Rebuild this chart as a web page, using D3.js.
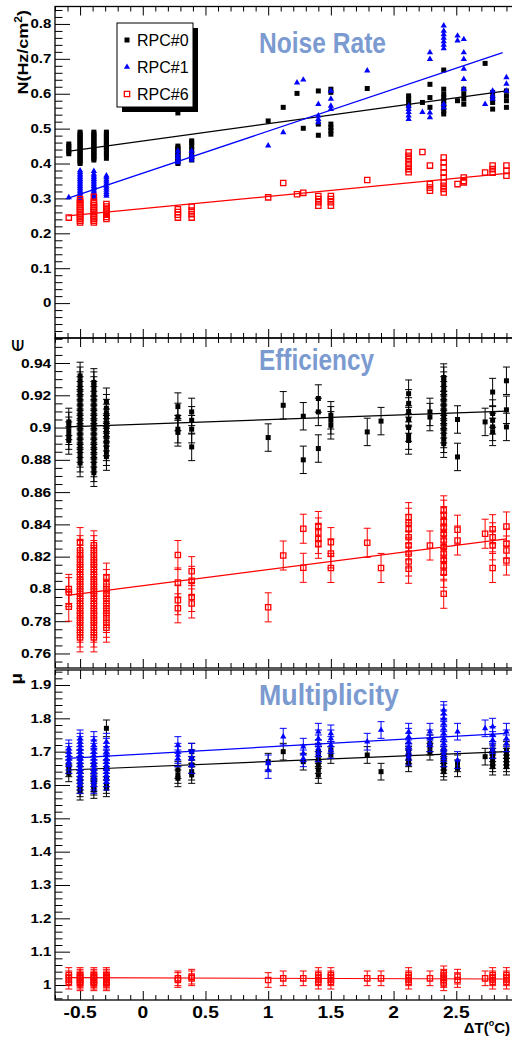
<!DOCTYPE html>
<html><head><meta charset="utf-8">
<script src="https://cdn.jsdelivr.net/npm/d3@7"></script>
<style>body{margin:0;background:#fff}svg{display:block}</style>
</head><body>
<script>
// ---------------- DATA ----------------
const seriesNames = ["RPC#0", "RPC#1", "RPC#6"];
const panelTitles = ["Noise Rate", "Efficiency", "Multiplicity"];
const yTitles = ["N(Hz/cm", "\u2208", "\u03bc"];
const xTitle = "\u0394T(";

const xTicks = [-0.5, 0, 0.5, 1, 1.5, 2, 2.5];
const noiseTicks = [0, 0.1, 0.2, 0.3, 0.4, 0.5, 0.6, 0.7, 0.8];
const effTicks = [0.76, 0.78, 0.8, 0.82, 0.84, 0.86, 0.88, 0.9, 0.92, 0.94];
const multTicks = [1, 1.1, 1.2, 1.3, 1.4, 1.5, 1.6, 1.7, 1.8, 1.9];

// Noise rate (Hz/cm^2), groups of [deltaT, values]
const noise0 = [
  [-0.59, [0.428, 0.435, 0.442, 0.45, 0.456]],
  [-0.5, [0.40, 0.405, 0.41, 0.415, 0.42, 0.425, 0.43, 0.435, 0.44, 0.445, 0.45, 0.455, 0.46, 0.465, 0.47, 0.475, 0.48, 0.485, 0.49]],
  [-0.39, [0.41, 0.415, 0.42, 0.425, 0.43, 0.435, 0.44, 0.445, 0.45, 0.455, 0.46, 0.465, 0.47, 0.475, 0.48, 0.485, 0.49]],
  [-0.29, [0.415, 0.425, 0.43, 0.44, 0.445, 0.45, 0.455, 0.46, 0.465, 0.47, 0.475, 0.48, 0.485, 0.49]],
  [0.28, [0.40, 0.405, 0.41, 0.415, 0.42, 0.425, 0.43, 0.435, 0.44, 0.445, 0.45, 0.545]],
  [0.39, [0.41, 0.415, 0.42, 0.43, 0.44, 0.45, 0.46, 0.465]],
  [1.0, [0.522]], [1.12, [0.561]], [1.23, [0.601]], [1.28, [0.501]],
  [1.4, [0.481, 0.513, 0.608]], [1.5, [0.484, 0.494, 0.503, 0.513, 0.604, 0.613]],
  [1.79, [0.615]], [2.12, [0.565, 0.575, 0.585, 0.594]], [2.23, [0.575]],
  [2.29, [0.561, 0.589, 0.627]], [2.4, [0.542, 0.551, 0.561, 0.57, 0.58, 0.589, 0.599, 0.613, 0.668]],
  [2.51, [0.58]], [2.56, [0.57, 0.585, 0.599, 0.613]], [2.73, [0.687]],
  [2.79, [0.556, 0.575, 0.589, 0.604]], [2.9, [0.561, 0.58, 0.594, 0.608]]
];
const noise1 = [
  [-0.59, [0.303]],
  [-0.5, [0.30, 0.305, 0.31, 0.315, 0.32, 0.325, 0.33, 0.335, 0.34, 0.345, 0.35, 0.355, 0.36, 0.365, 0.37, 0.375, 0.38]],
  [-0.39, [0.30, 0.305, 0.31, 0.315, 0.32, 0.325, 0.33, 0.335, 0.34, 0.345, 0.35, 0.355, 0.36, 0.365, 0.37, 0.378]],
  [-0.29, [0.307, 0.312, 0.318, 0.324, 0.33, 0.336, 0.342, 0.348, 0.354, 0.36, 0.365]],
  [0.28, [0.403, 0.41, 0.418, 0.425, 0.436]],
  [0.39, [0.41, 0.418, 0.425, 0.436]],
  [1.0, [0.451]], [1.12, [0.489]], [1.23, [0.632]], [1.28, [0.64]],
  [1.4, [0.518, 0.527, 0.537, 0.57]], [1.5, [0.556, 0.565, 0.585, 0.608]],
  [1.79, [0.666]], [2.12, [0.527, 0.537, 0.547, 0.556, 0.565]], [2.23, [0.547]],
  [2.29, [0.532, 0.546, 0.699, 0.718]],
  [2.4, [0.56, 0.57, 0.73, 0.74, 0.75, 0.76, 0.77, 0.78, 0.795]],
  [2.51, [0.752, 0.766]], [2.56, [0.613, 0.642, 0.671, 0.699, 0.718, 0.756]],
  [2.73, [0.57]], [2.79, [0.585, 0.594, 0.608]], [2.9, [0.608, 0.628, 0.647]]
];
const noise6 = [
  [-0.59, [0.245]],
  [-0.5, [0.231, 0.236, 0.241, 0.246, 0.251, 0.256, 0.261, 0.266, 0.271, 0.276, 0.281, 0.286, 0.292, 0.298]],
  [-0.39, [0.231, 0.236, 0.241, 0.246, 0.251, 0.256, 0.261, 0.266, 0.271, 0.276, 0.281, 0.286, 0.29, 0.305]],
  [-0.29, [0.241, 0.247, 0.253, 0.259, 0.265, 0.271, 0.277, 0.284]],
  [0.28, [0.245, 0.253, 0.261, 0.269]],
  [0.39, [0.245, 0.255, 0.265, 0.276]],
  [1.0, [0.303]], [1.12, [0.344]], [1.23, [0.312]], [1.28, [0.316]],
  [1.4, [0.279, 0.289, 0.298, 0.307]], [1.5, [0.279, 0.289, 0.298, 0.307]],
  [1.79, [0.353]], [2.12, [0.375, 0.384, 0.394, 0.403, 0.413, 0.422, 0.432]], [2.23, [0.433]],
  [2.29, [0.322, 0.331, 0.341, 0.394]],
  [2.4, [0.317, 0.327, 0.336, 0.346, 0.36, 0.374, 0.389, 0.403, 0.417]],
  [2.51, [0.341]], [2.56, [0.346, 0.35, 0.36]], [2.73, [0.374]],
  [2.79, [0.374, 0.384, 0.394]], [2.9, [0.365, 0.379, 0.394]]
];
const noiseFit0 = [[-0.6, 0.435], [2.9, 0.608]];
const noiseFit1 = [[-0.6, 0.30], [2.87, 0.718]];
const noiseFit6 = [[-0.6, 0.25], [2.9, 0.372]];

// Efficiency
const eff0 = [
  [-0.59, [0.892, 0.895, 0.898, 0.901, 0.9035]],
  [-0.5, [0.878, 0.881, 0.884, 0.887, 0.89, 0.893, 0.896, 0.899, 0.902, 0.905, 0.908, 0.911, 0.914, 0.917, 0.92, 0.923, 0.926, 0.929, 0.932]],
  [-0.39, [0.872, 0.875, 0.878, 0.881, 0.884, 0.887, 0.89, 0.893, 0.896, 0.899, 0.902, 0.905, 0.908, 0.911, 0.914, 0.917, 0.92, 0.923, 0.926, 0.928]],
  [-0.29, [0.882, 0.885, 0.888, 0.891, 0.894, 0.897, 0.9, 0.903, 0.906, 0.909, 0.912, 0.916]],
  [0.28, [0.897, 0.899, 0.9066, 0.913]],
  [0.39, [0.888, 0.899, 0.9045, 0.9097]],
  [1.0, [0.8938]], [1.12, [0.9138]], [1.28, [0.88, 0.907]], [1.4, [0.887, 0.9097, 0.918]],
  [1.5, [0.9014, 0.9045, 0.9076]], [1.79, [0.8973]], [1.9, [0.904]],
  [2.12, [0.892, 0.895, 0.9, 0.905, 0.91, 0.915, 0.921]], [2.29, [0.9065, 0.9097]],
  [2.4, [0.89, 0.893, 0.896, 0.899, 0.902, 0.905, 0.908, 0.911, 0.914, 0.917, 0.92, 0.923, 0.926, 0.929, 0.931]],
  [2.51, [0.8818, 0.905]], [2.73, [0.9035]], [2.79, [0.8973, 0.9004, 0.9045, 0.9087, 0.922]],
  [2.9, [0.9004, 0.911, 0.929]]
];
const eff6 = [
  [-0.59, [0.789, 0.798, 0.80]],
  [-0.5, [0.77, 0.773, 0.776, 0.779, 0.782, 0.785, 0.788, 0.791, 0.794, 0.797, 0.8, 0.803, 0.806, 0.809, 0.812, 0.815, 0.818, 0.821, 0.824, 0.829]],
  [-0.39, [0.77, 0.773, 0.776, 0.779, 0.782, 0.785, 0.788, 0.791, 0.794, 0.797, 0.8, 0.803, 0.806, 0.809, 0.812, 0.815, 0.818, 0.821, 0.824, 0.827]],
  [-0.29, [0.776, 0.779, 0.782, 0.785, 0.788, 0.791, 0.794, 0.797, 0.8, 0.803, 0.807]],
  [0.28, [0.788, 0.793, 0.804, 0.821]],
  [0.39, [0.791, 0.795, 0.805, 0.811]],
  [1.0, [0.7886]], [1.12, [0.8207]], [1.28, [0.8131, 0.8373]], [1.4, [0.828, 0.831, 0.835, 0.839]],
  [1.5, [0.813, 0.822, 0.829]], [1.79, [0.8286]], [1.9, [0.813]],
  [2.12, [0.8125, 0.817, 0.822, 0.827, 0.832, 0.837, 0.841, 0.8445]], [2.29, [0.8269]],
  [2.4, [0.797, 0.81, 0.814, 0.818, 0.822, 0.826, 0.83, 0.834, 0.838, 0.842, 0.846, 0.8487]],
  [2.51, [0.83, 0.8367]], [2.73, [0.8342]], [2.79, [0.813, 0.827, 0.832, 0.837]],
  [2.9, [0.8176, 0.8238, 0.828, 0.8387]]
];
const effErr = [0.0085, 0.009];
const effFit0 = [[-0.6, 0.9004], [2.9, 0.9102]];
const effFit6 = [[-0.6, 0.796], [2.9, 0.831]];

// Multiplicity
const mult0 = [
  [-0.59, [1.635, 1.65, 1.66]],
  [-0.5, [1.58, 1.59, 1.6, 1.61, 1.62, 1.64, 1.66, 1.68]],
  [-0.39, [1.585, 1.595, 1.605, 1.62, 1.64, 1.66]],
  [-0.29, [1.59, 1.6, 1.62, 1.65, 1.77]],
  [0.28, [1.62, 1.63, 1.645]],
  [0.39, [1.63, 1.64, 1.66, 1.68, 1.7]],
  [1.0, [1.67]], [1.12, [1.7]], [1.28, [1.67]], [1.4, [1.63, 1.645, 1.66, 1.675, 1.69, 1.7]],
  [1.5, [1.69, 1.705]], [1.79, [1.69]], [1.9, [1.64]], [2.12, [1.665, 1.68, 1.69, 1.7]],
  [2.29, [1.7, 1.715, 1.725]], [2.4, [1.64, 1.65, 1.66, 1.67, 1.68, 1.69, 1.705]],
  [2.51, [1.65, 1.665]], [2.73, [1.685]], [2.79, [1.655, 1.665, 1.675, 1.685, 1.695, 1.705]],
  [2.9, [1.655, 1.665, 1.675, 1.685, 1.695, 1.705]]
];
const mult1 = [
  [-0.59, [1.66, 1.67, 1.68, 1.69, 1.7, 1.71]],
  [-0.5, [1.6, 1.61, 1.62, 1.63, 1.64, 1.65, 1.66, 1.67, 1.68, 1.69, 1.7, 1.71, 1.72, 1.73, 1.74]],
  [-0.39, [1.6, 1.61, 1.62, 1.63, 1.64, 1.65, 1.66, 1.67, 1.68, 1.69, 1.7, 1.71, 1.72, 1.735]],
  [-0.29, [1.61, 1.62, 1.63, 1.64, 1.65, 1.66, 1.67, 1.68, 1.69, 1.7, 1.715, 1.73]],
  [0.28, [1.68, 1.69, 1.7, 1.72]],
  [0.39, [1.66, 1.68, 1.7]],
  [1.0, [1.645, 1.665]], [1.12, [1.745]], [1.28, [1.68, 1.695, 1.715]],
  [1.4, [1.695, 1.71, 1.725, 1.74, 1.76]], [1.5, [1.705, 1.72, 1.74, 1.755]],
  [1.79, [1.73]], [1.9, [1.765]], [2.12, [1.685, 1.7, 1.715, 1.73, 1.745, 1.76]],
  [2.29, [1.725, 1.74, 1.76]],
  [2.4, [1.68, 1.695, 1.71, 1.725, 1.74, 1.755, 1.77, 1.785, 1.8, 1.815, 1.825]],
  [2.51, [1.675, 1.76]], [2.73, [1.77]], [2.79, [1.705, 1.72, 1.735, 1.75, 1.775]],
  [2.9, [1.725, 1.74, 1.76]]
];
const mult6 = [
  [-0.59, [1.01, 1.02, 1.03]],
  [-0.5, [1.005, 1.01, 1.015, 1.02, 1.025, 1.03]],
  [-0.39, [1.005, 1.01, 1.015, 1.02, 1.025, 1.03]],
  [-0.29, [1.005, 1.01, 1.015, 1.02, 1.025, 1.03]],
  [0.28, [1.015, 1.02]], [0.39, [1.02, 1.025]],
  [1.0, [1.015]], [1.12, [1.02]], [1.28, [1.02]], [1.4, [1.01, 1.02, 1.03]], [1.5, [1.01, 1.02, 1.03]],
  [1.79, [1.02]], [1.9, [1.02]], [2.12, [1.01, 1.02, 1.03]], [2.29, [1.02]],
  [2.4, [1.005, 1.015, 1.025, 1.035]], [2.51, [1.015, 1.025]], [2.73, [1.02]],
  [2.79, [1.01, 1.02, 1.03]], [2.9, [1.01, 1.02, 1.03]]
];
const multErr = [0.025, 0.025, 0.022];
const multFit0 = [[-0.6, 1.645], [2.9, 1.70]];
const multFit1 = [[-0.6, 1.68], [2.9, 1.755]];
const multFit6 = [[-0.6, 1.022], [2.9, 1.018]];

// ---------------- DRAW ----------------
const W = 512, H = 1040;
const svg = d3.select("body").append("svg").attr("width", W).attr("height", H)
  .style("font-family", "'Liberation Sans', Arial, Helvetica, sans-serif");

const x = d3.scaleLinear().domain([-0.7, 2.95]).range([55, 512.7]);
const COLORS = ["#000000", "#0000ff", "#ff0000"];
const TITLE_COLOR = "#7b9ad0";

const panels = [
  {top: 6.5, bottom: 338, domain: [-0.1, 0.85], ticks: noiseTicks, minorStep: 0.02,
   title: panelTitles[0], titleY: 53, titleLen: 127},
  {top: 338, bottom: 668, domain: [0.751, 0.9555], ticks: effTicks, minorStep: 0.005,
   title: panelTitles[1], titleY: 370, titleLen: 115},
  {top: 670, bottom: 1000, domain: [0.955, 1.945], ticks: multTicks, minorStep: 0.02,
   title: panelTitles[2], titleY: 705, titleLen: 140}
];

const xMinor = d3.range(-7, 30).map(i => i / 10).filter(v => !xTicks.some(t => Math.abs(t - v) < 1e-6));
const fmt = d => String(+(+d).toFixed(3));

panels.forEach((p, i) => {
  p.y = d3.scaleLinear().domain(p.domain).range([p.bottom, p.top]);
  const g = svg.append("g");
  p.g = g;
  const n0 = Math.ceil(p.domain[0] / p.minorStep - 1e-6), n1 = Math.floor(p.domain[1] / p.minorStep + 1e-6);
  const yMinor = d3.range(n0, n1 + 1).map(k => k * p.minorStep)
    .filter(v => !p.ticks.some(t => Math.abs(t - v) < 1e-6));
  const ym = g.append("g").attr("transform", `translate(55,0)`)
    .call(d3.axisLeft(p.y).tickValues(yMinor).tickSize(-7.5).tickFormat(""));
  ym.select(".domain").remove();
  const yM = g.append("g").attr("transform", `translate(55,0)`)
    .call(d3.axisLeft(p.y).tickValues(p.ticks).tickSize(-15).tickPadding(3).tickFormat(fmt));
  yM.select(".domain").remove();
  yM.selectAll("text").attr("font-size", i === 1 ? 12.5 : 12).attr("font-weight", "bold")
    .attr("fill", "#000").attr("transform", "scale(1.25,1)");
  g.selectAll(".tick line").attr("stroke", "#000").attr("stroke-width", 1.2);

  [[p.bottom, d3.axisTop], [p.top, d3.axisBottom]].forEach(([yy, ax]) => {
    const a1 = g.append("g").attr("transform", `translate(0,${yy})`)
      .call(ax(x).tickValues(xMinor).tickSize(5).tickFormat(""));
    a1.select(".domain").remove();
    const a2 = g.append("g").attr("transform", `translate(0,${yy})`)
      .call(ax(x).tickValues(xTicks).tickSize(9).tickFormat(""));
    a2.select(".domain").remove();
    g.selectAll(".tick line").attr("stroke", "#000").attr("stroke-width", 1);
  });

  g.append("rect").attr("x", x.range()[0]).attr("y", p.top)
    .attr("width", x.range()[1] - x.range()[0]).attr("height", p.bottom - p.top)
    .attr("fill", "none").attr("stroke", "#000").attr("stroke-width", 1.3);

  g.append("text").attr("x", 259).attr("y", p.titleY).text(p.title)
    .attr("font-size", 30).attr("font-weight", "bold").attr("fill", TITLE_COLOR)
    .attr("textLength", p.titleLen).attr("lengthAdjust", "spacingAndGlyphs");
});

xTicks.forEach(t => {
  svg.append("text").attr("transform", `translate(${x(t)},1018) scale(1.2,1)`)
    .attr("text-anchor", "middle").attr("font-size", 16).attr("font-weight", "bold")
    .text(fmt(t));
});
// x title
const xt = svg.append("text").attr("transform", "translate(510,1033)")
  .attr("text-anchor", "end").attr("font-size", 15).attr("font-weight", "bold");
xt.append("tspan").text(xTitle);
xt.append("tspan").attr("font-size", 9).attr("dy", -7).text("o");
xt.append("tspan").attr("dy", 7).text("C)");

// y titles
const yt0 = svg.append("text").attr("transform", "translate(28,10) rotate(-90) scale(1.2,1)")
  .attr("text-anchor", "end").attr("font-size", 15).attr("font-weight", "bold");
yt0.append("tspan").text(yTitles[0]);
yt0.append("tspan").attr("font-size", 10).attr("dy", -6).text("2");
yt0.append("tspan").attr("dy", 6).text(")");
svg.append("text").attr("transform", "translate(23,339) rotate(-90)")
  .attr("text-anchor", "end").attr("font-size", 15).attr("font-weight", "bold").text(yTitles[1]);
svg.append("text").attr("transform", "translate(22,673) rotate(-90) scale(1.1,1)")
  .attr("text-anchor", "end").attr("font-size", 17).attr("font-weight", "bold").text(yTitles[2]);

const sym = {
  sq: d3.symbol(d3.symbolSquare, 25),
  tri: d3.symbol(d3.symbolTriangle, 17),
  open: d3.symbol(d3.symbolSquare, 28)
};
const MARK = ["sq", "tri", "open"];

function drawSeries(p, groups, idx, err, fit) {
  const g = p.g.append("g");
  const color = COLORS[idx];
  const pts = groups.flatMap(([xv, vals]) => vals.map(v => ({x: xv, v})));
  if (fit) {
    g.append("path").datum(fit)
      .attr("d", d3.line().x(d => x(d[0])).y(d => p.y(d[1])))
      .attr("stroke", color).attr("stroke-width", 1.2).attr("fill", "none");
  }
  if (err) {
    const eg = g.append("g").attr("stroke", color).attr("stroke-width", 1);
    pts.forEach(d => {
      const cx = x(d.x), y1 = p.y(d.v - err), y2 = p.y(d.v + err);
      eg.append("line").attr("x1", cx).attr("x2", cx).attr("y1", y1).attr("y2", y2);
      eg.append("line").attr("x1", cx - 3.5).attr("x2", cx + 3.5).attr("y1", y1).attr("y2", y1);
      eg.append("line").attr("x1", cx - 3.5).attr("x2", cx + 3.5).attr("y1", y2).attr("y2", y2);
    });
  }
  g.selectAll("path.m").data(pts).join("path").attr("class", "m")
    .attr("transform", d => `translate(${x(d.x)},${p.y(d.v)})`)
    .attr("d", sym[MARK[idx]]())
    .attr("fill", idx === 2 ? "none" : color)
    .attr("stroke", idx === 2 ? color : "none")
    .attr("stroke-width", 1.3);
}

drawSeries(panels[0], noise0, 0, 0, noiseFit0);
drawSeries(panels[0], noise1, 1, 0, noiseFit1);
drawSeries(panels[0], noise6, 2, 0, noiseFit6);
drawSeries(panels[1], eff0, 0, effErr[0], effFit0);
drawSeries(panels[1], eff6, 2, effErr[1], effFit6);
drawSeries(panels[2], mult0, 0, multErr[0], multFit0);
drawSeries(panels[2], mult1, 1, multErr[1], multFit1);
drawSeries(panels[2], mult6, 2, multErr[2], multFit6);

// legend
const lg = svg.append("g");
lg.append("rect").attr("x", 122).attr("y", 28).attr("width", 76).attr("height", 84).attr("fill", "#000");
lg.append("rect").attr("x", 117).attr("y", 23).attr("width", 76).attr("height", 84)
  .attr("fill", "#fff").attr("stroke", "#000").attr("stroke-width", 1);
seriesNames.forEach((name, i) => {
  const yy = [40, 67, 94][i];
  lg.append("path").attr("transform", `translate(127,${yy})`).attr("d", sym[MARK[i]]())
    .attr("fill", i === 2 ? "none" : COLORS[i]).attr("stroke", i === 2 ? COLORS[i] : "none").attr("stroke-width", 1.3);
  lg.append("text").attr("x", 137).attr("y", yy + 6).attr("font-size", 16).text(name);
});
</script>
</body></html>
